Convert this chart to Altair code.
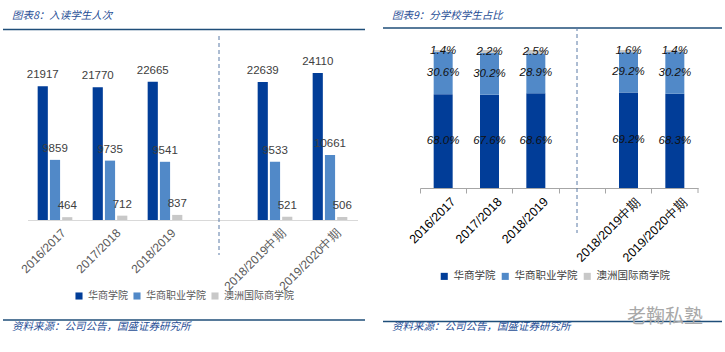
import altair as alt
import pandas as pd

periods = ["2016/2017", "2017/2018", "2018/2019", "2018/2019中期", "2019/2020中期"]
slots = ["2016/2017", "2017/2018", "2018/2019", " ", "2018/2019中期", "2019/2020中期"]
schools = ["华商学院", "华商职业学院", "澳洲国际商学院"]
colors = ["#013D98", "#5189C8", "#C8C8C8"]

huashang = [21917, 21770, 22665, 22639, 24110]
zhiye = [9859, 9735, 9541, 9533, 10661]
aozhou = [464, 712, 837, 521, 506]

pct_huashang = [68.0, 67.6, 68.6, 69.2, 68.3]
pct_zhiye = [30.6, 30.2, 28.9, 29.2, 30.2]
pct_aozhou = [1.4, 2.2, 2.5, 1.6, 1.4]

rows_n, rows_p = [], []
for i, p in enumerate(periods):
    for k, (s, vals, pv) in enumerate(zip(schools, [huashang, zhiye, aozhou], [pct_huashang, pct_zhiye, pct_aozhou])):
        rows_n.append({"period": p, "school": s, "order": k, "value": vals[i]})
        rows_p.append({"period": p, "school": s, "order": k, "pct": pv[i],
                       "label": f"{pv[i]:.1f}%"})
df_n = pd.DataFrame(rows_n)
df_p = pd.DataFrame(rows_p)

title_color = "#1F4E96"
rule_color = "#1F4E79"
FONT = "Liberation Sans"
CJK = "Noto Sans CJK SC"

color_scale = alt.Scale(domain=schools, range=colors)

def deco(W, title, tx, line_y1, line_y2, x0, x1, div_x, div_y0, div_y1, src_x, src_y):
    d = pd.DataFrame({"t": [title]})
    t = alt.Chart(d).mark_text(align="left", baseline="middle", font=CJK, fontSize=10.5,
                               fontStyle="italic", color=title_color).encode(
        x=alt.value(tx), y=alt.value(16), text="t:N")
    r1 = alt.Chart(d).mark_rule(color=rule_color, strokeWidth=1.5).encode(
        x=alt.value(x0), x2=alt.value(x1), y=alt.value(line_y1))
    r2 = alt.Chart(d).mark_rule(color=rule_color, strokeWidth=1.5).encode(
        x=alt.value(x0), x2=alt.value(x1), y=alt.value(line_y2))
    dv = alt.Chart(d).mark_rule(color="#5A7BA6", strokeWidth=1, strokeDash=[4, 3]).encode(
        x=alt.value(div_x), y=alt.value(div_y0), y2=alt.value(div_y1))
    src = alt.Chart(pd.DataFrame({"t": ["资料来源：公司公告，国盛证券研究所"]})).mark_text(
        align="left", baseline="middle", font=CJK, fontSize=10.5, fontStyle="italic",
        color=title_color).encode(x=alt.value(src_x), y=alt.value(src_y), text="t:N")
    return [t, r1, r2, dv, src]

# ---------- Left panel ----------
W1, H = 370, 352
xL = alt.X("period:N", scale=alt.Scale(domain=slots, range=[27.5, 357.5], paddingInner=0, paddingOuter=0),
           axis=alt.Axis(title=None, labelAngle=-45, ticks=False, domainColor="#D9D9D9",
                         labelColor="#595959", labelFont=FONT, labelFontSize=12,
                         offset=220 - H, labelPadding=7, labelOffset=5))
xoff = alt.XOffset("school:N", sort=schools,
                   scale=alt.Scale(domain=schools, paddingInner=0.17, paddingOuter=0.83))
yL = alt.Y("value:Q", scale=alt.Scale(domain=[0, 30000], range=[220, 37], nice=False), axis=None)

bars_l = alt.Chart(df_n).mark_bar().encode(
    x=xL, xOffset=xoff, y=yL,
    color=alt.Color("school:N", scale=color_scale, sort=schools,
                    legend=alt.Legend(title=None, orient="none", legendX=74, legendY=291,
                                      direction="horizontal", symbolType="square",
                                      symbolSize=50, symbolStrokeWidth=0,
                                      labelFont=CJK, labelFontSize=10, labelColor="#595959",
                                      columnPadding=4, symbolOffset=0, labelOffset=4)))
text_l = alt.Chart(df_n).mark_text(baseline="bottom", dy=-6, font=FONT, fontSize=11.5,
                                   color="#404040").encode(
    x=xL, xOffset=xoff, y=yL, text="value:Q")

left = alt.layer(bars_l, text_l,
                 *deco(W1, "图表8：入读学生人次", 12, 29.5, 320, 3, 365, 219, 36, 255, 12, 327)
                 ).properties(width=W1, height=H)

# ---------- Right panel ----------
W2 = 355
xR = alt.X("period:N", scale=alt.Scale(domain=slots, range=[50, 328], paddingInner=0, paddingOuter=0),
           axis=alt.Axis(title=None, labelAngle=-45, bandPosition=0, tickSize=5,
                         tickColor="#A6A6A6", domainColor="#A6A6A6",
                         labelColor="#000000", labelFont=FONT, labelFontSize=12.5,
                         offset=188 - H, labelPadding=2, labelOffset=6))
yR_scale = alt.Scale(domain=[0, 100], range=[188, 50], nice=False)

bars_r = alt.Chart(df_p).mark_bar(size=19).encode(
    x=xR,
    y=alt.Y("pct:Q", stack="zero", scale=yR_scale, axis=None),
    order=alt.Order("order:Q"),
    color=alt.Color("school:N", scale=color_scale, sort=schools,
                    legend=alt.Legend(title=None, orient="none", legendX=69, legendY=271,
                                      direction="horizontal", symbolType="square",
                                      symbolSize=50, symbolStrokeWidth=0,
                                      labelFont=CJK, labelFontSize=10.5, labelColor="#404040",
                                      columnPadding=4, labelOffset=4)))
text_r = alt.Chart(df_p).transform_stack(
    stack="pct", groupby=["period"], as_=["p0", "p1"], sort=[alt.SortField("order")]
).transform_calculate(mid="(datum.p0 + datum.p1) / 2").mark_text(
    font=FONT, fontSize=11.5, fontStyle="italic", color="#111111", baseline="middle").encode(
    x=xR, y=alt.Y("mid:Q", scale=yR_scale, axis=None), text="label:N")

end_tick = alt.Chart(pd.DataFrame({"a": [1]})).mark_rule(color="#A6A6A6").encode(
    x=alt.value(328), y=alt.value(188), y2=alt.value(193))
wm = alt.Chart(pd.DataFrame({"t": ["老鞠私塾"]})).mark_text(
    align="left", baseline="middle", font=CJK, fontSize=19, color="#A8A8A8").encode(
    x=alt.value(257), y=alt.value(317), text="t:N")

right = alt.layer(bars_r, text_r, end_tick,
                  *deco(W2, "图表9：分学校学生占比", 22, 28, 321.5, 13, 352, 207, 27, 233, 22, 327),
                  wm).properties(width=W2, height=H)

chart = alt.hconcat(left, right, spacing=0).resolve_scale(
    color="independent", x="independent", y="independent"
).configure(padding=0, background="white").configure_view(strokeWidth=0, stroke="transparent")

chart.save("out.html", embed_options={"renderer": "svg", "actions": False})
